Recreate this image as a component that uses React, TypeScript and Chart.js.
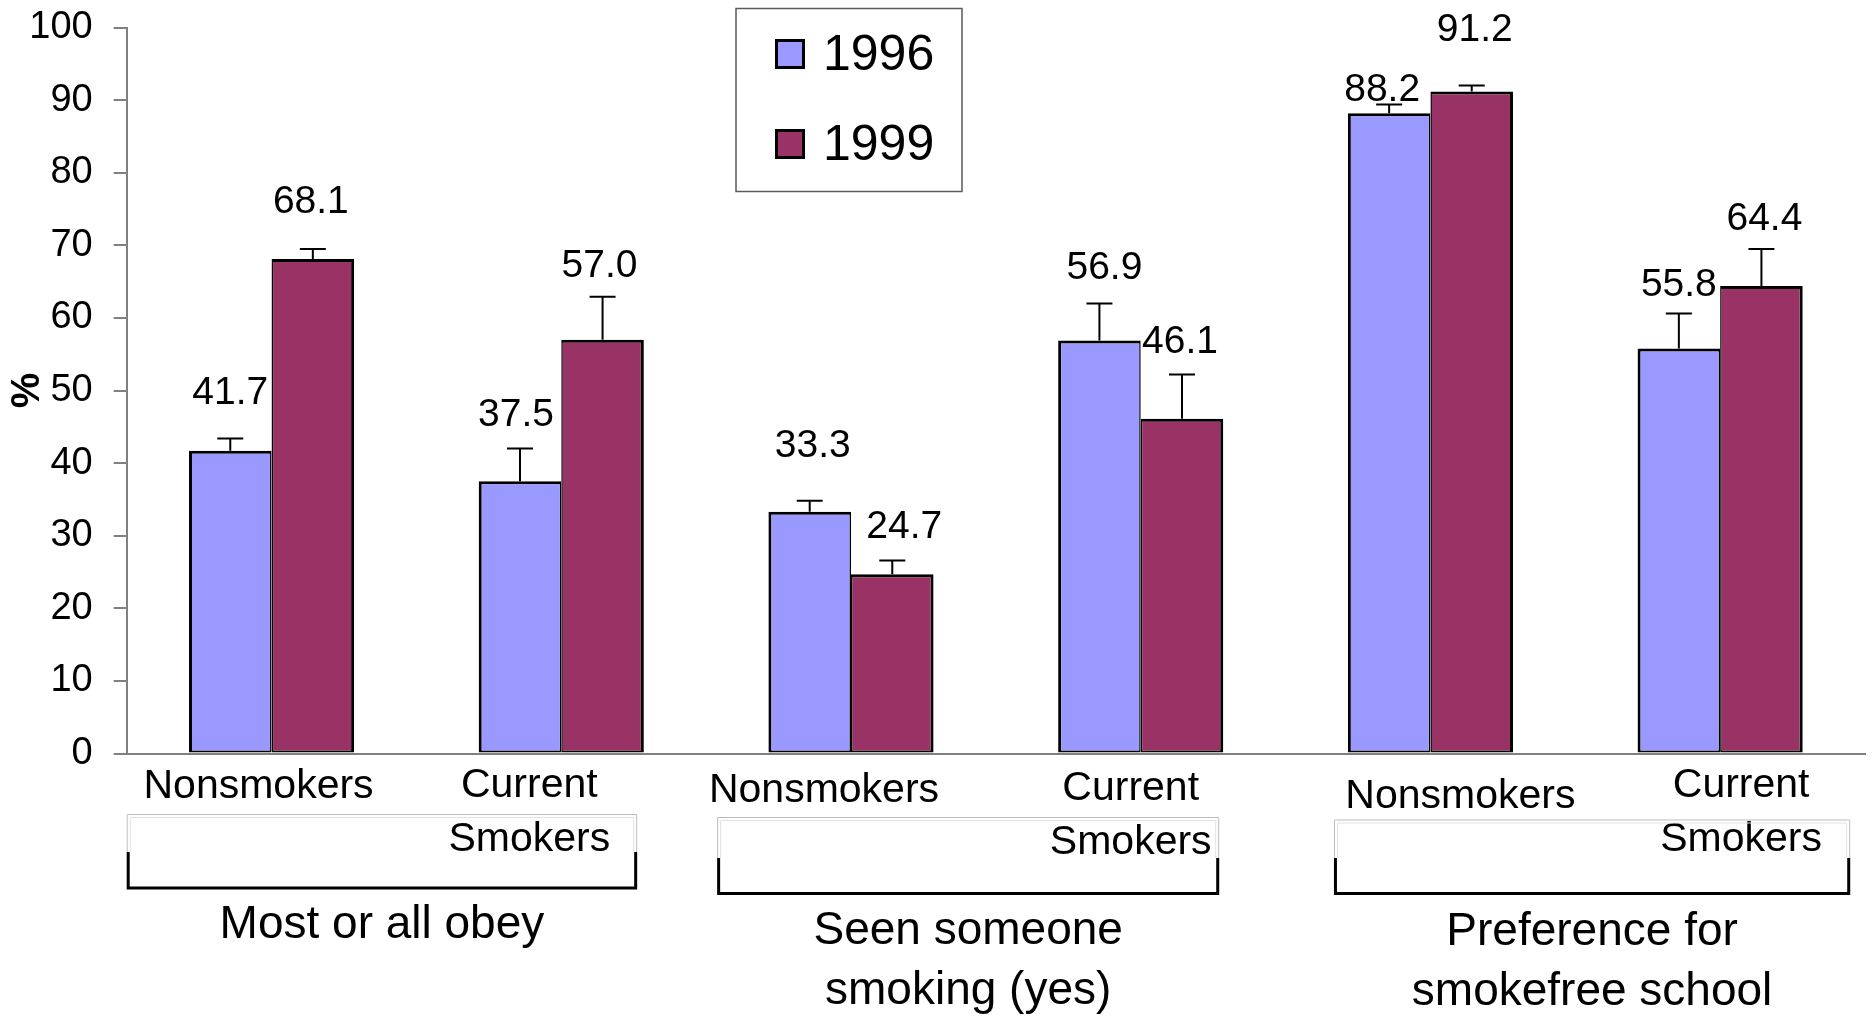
import React, { useEffect, useRef } from 'react';
import { Chart, registerables } from 'chart.js';

Chart.register(...registerables);

const FONT = "'Liberation Sans', Arial, Helvetica, sans-serif";

// ---------- data ----------
const categories = ['Nonsmokers', 'Current Smokers', 'Nonsmokers', 'Current Smokers', 'Nonsmokers', 'Current Smokers'];
const groupLabels = [['Most or all obey'], ['Seen someone', 'smoking (yes)'], ['Preference for', 'smokefree school']];
const seriesNames = ['1996', '1999'];
const values1996 = [41.7, 37.5, 33.3, 56.9, 88.2, 55.8];
const values1999 = [68.1, 57.0, 24.7, 46.1, 91.2, 64.4];
const errors1996 = [1.7, 4.5, 1.5, 5.1, 1.2, 4.8];
const errors1999 = [1.4, 5.9, 1.9, 6.1, 0.8, 5.1];
const yMin = 0;
const yMax = 100;
const yStep = 10;
const yTitle = '%';

// ---------- styling / layout ----------
const COLORS = ['#9999FF', '#993366'];
const LABEL_DX = [[0, -4, 3, 5, -7, 0], [-2, -3, 12, -2, 3, 3]];
const LABEL_DY = [[-58, -66, -65, -72, -23, -63], [-57, -73, -47, -77, -61, -67]];
const CAT_DX = [-13, -32, -27, -10, 30, 21];
const CAT_DY = [33.5, 32, 37.5, 35, 43.5, 32];
const CAT_DY2 = [0, 86, 0, 89.5, 0, 86];
const BRACKETS = [
  { start: 0, end: 1.762, top: 60.5, black: 98.5, bottom: 134.5, text: 172 },
  { start: 0.038, end: 1.771, top: 63.5, black: 104.5, bottom: 140, text: 178 },
  { start: 0.167, end: 1.949, top: 66, black: 104.5, bottom: 140, text: 179 },
];
const GROUP_LINE_GAP = 59.5;
const LEGEND = { x: 736, y: 8.5, w: 226, h: 183, sw: 30, swX: 775, rows: [54, 144], textX: 823, textDy: 2, font: 50 };

const overlayPlugin = {
  id: 'overlay',
  afterDatasetsDraw(chart: any) {
    const ctx = chart.ctx;
    const xs = chart.scales.x;
    const ys = chart.scales.y;
    const area = chart.chartArea;
    const vals = [values1996, values1999];
    const errs = [errors1996, errors1999];
    ctx.save();

    // error bars (upper)
    ctx.strokeStyle = '#000';
    ctx.lineWidth = 2;
    for (let d = 0; d < 2; d++) {
      const meta = chart.getDatasetMeta(d);
      meta.data.forEach((bar: any, i: number) => {
        const top = ys.getPixelForValue(vals[d][i]);
        const cap = ys.getPixelForValue(vals[d][i] + errs[d][i]);
        ctx.beginPath();
        ctx.moveTo(bar.x, top);
        ctx.lineTo(bar.x, cap);
        ctx.moveTo(bar.x - 13, cap);
        ctx.lineTo(bar.x + 13, cap);
        ctx.stroke();
      });
    }

    // value labels
    ctx.fillStyle = '#000';
    ctx.textAlign = 'center';
    ctx.textBaseline = 'middle';
    ctx.font = `39px ${FONT}`;
    for (let d = 0; d < 2; d++) {
      const meta = chart.getDatasetMeta(d);
      meta.data.forEach((bar: any, i: number) => {
        const top = ys.getPixelForValue(vals[d][i]);
        ctx.fillText(vals[d][i].toFixed(1), bar.x + LABEL_DX[d][i], top + LABEL_DY[d][i]);
      });
    }

    // category labels
    const axisY = area.bottom;
    ctx.font = `41px ${FONT}`;
    categories.forEach((c, i) => {
      const cx = xs.getPixelForValue(i) + CAT_DX[i];
      const lines = c.split(' ');
      lines.forEach((ln, k) => {
        ctx.fillText(ln, cx, axisY + (k === 0 ? CAT_DY[i] : CAT_DY2[i]));
      });
    });

    // group brackets
    const catW = xs.getPixelForValue(1) - xs.getPixelForValue(0);
    BRACKETS.forEach((b, g) => {
      const base = xs.getPixelForValue(g * 2) - catW / 2;
      const left = base + b.start * catW;
      const right = base + b.end * catW;
      // light grey text-box outline
      ctx.lineWidth = 1;
      ctx.strokeStyle = '#bdbdbd';
      ctx.beginPath();
      ctx.moveTo(left + 0.5, axisY + b.black);
      ctx.lineTo(left + 0.5, axisY + b.top + 0.5);
      ctx.lineTo(right - 0.5, axisY + b.top + 0.5);
      ctx.lineTo(right - 0.5, axisY + b.black);
      ctx.stroke();
      ctx.strokeStyle = '#e2e2e2';
      ctx.beginPath();
      ctx.moveTo(left + 3.5, axisY + b.black);
      ctx.lineTo(left + 3.5, axisY + b.top + 3.5);
      ctx.lineTo(right - 3.5, axisY + b.top + 3.5);
      ctx.lineTo(right - 3.5, axisY + b.black);
      ctx.stroke();
      // black bracket
      ctx.lineWidth = 3;
      ctx.strokeStyle = '#000';
      ctx.beginPath();
      ctx.moveTo(left + 1.5, axisY + b.black);
      ctx.lineTo(left + 1.5, axisY + b.bottom);
      ctx.lineTo(right - 1.5, axisY + b.bottom);
      ctx.lineTo(right - 1.5, axisY + b.black);
      ctx.stroke();
      // group label
      ctx.fillStyle = '#000';
      ctx.font = `46px ${FONT}`;
      const gx = (left + right) / 2;
      groupLabels[g].forEach((ln, k) => {
        ctx.fillText(ln, gx, axisY + b.text + k * GROUP_LINE_GAP);
      });
    });

    // legend
    ctx.lineWidth = 1.5;
    ctx.strokeStyle = '#5a5a5a';
    ctx.fillStyle = '#fff';
    ctx.fillRect(LEGEND.x, LEGEND.y, LEGEND.w, LEGEND.h);
    ctx.strokeRect(LEGEND.x, LEGEND.y, LEGEND.w, LEGEND.h);
    chart.data.datasets.forEach((ds: any, d: number) => {
      const cy = LEGEND.rows[d];
      ctx.fillStyle = ds.backgroundColor;
      ctx.fillRect(LEGEND.swX, cy - LEGEND.sw / 2, LEGEND.sw, LEGEND.sw);
      ctx.lineWidth = 3;
      ctx.strokeStyle = '#000';
      ctx.strokeRect(LEGEND.swX + 1.5, cy - LEGEND.sw / 2 + 1.5, LEGEND.sw - 3, LEGEND.sw - 3);
      ctx.fillStyle = '#000';
      ctx.textAlign = 'left';
      ctx.font = `${LEGEND.font}px ${FONT}`;
      ctx.fillText(ds.label, LEGEND.textX, cy + LEGEND.textDy);
    });

    ctx.restore();
  },
};

export default function App() {
  const canvasRef = useRef<HTMLCanvasElement | null>(null);

  useEffect(() => {
    if (!canvasRef.current) return;
    const chart = new Chart(canvasRef.current, {
      type: 'bar',
      data: {
        labels: categories,
        datasets: [
          {
            label: seriesNames[0],
            data: values1996,
            backgroundColor: COLORS[0],
            borderColor: '#000',
            borderWidth: { left: 3, top: 3, right: 1.5, bottom: 2 },
            borderSkipped: false,
          },
          {
            label: seriesNames[1],
            data: values1999,
            backgroundColor: COLORS[1],
            borderColor: '#000',
            borderWidth: { left: 1.5, top: 3, right: 3, bottom: 2 },
            borderSkipped: false,
          },
        ],
      },
      options: {
        animation: false,
        responsive: true,
        maintainAspectRatio: false,
        layout: { padding: { top: 27.5, right: 8, bottom: 0, left: 0 } },
        datasets: { bar: { categoryPercentage: 0.57, barPercentage: 1.0 } },
        plugins: {
          legend: { display: false },
          tooltip: { enabled: false },
          title: { display: false },
        },
        scales: {
          x: {
            type: 'category',
            offset: true,
            grid: { display: false, drawTicks: false },
            border: { display: true, color: '#808080', width: 2 },
            ticks: { display: false },
            afterFit: (scale: any) => {
              scale.height = 262.5;
              scale.paddingLeft = 0;
              scale.paddingRight = 0;
            },
          },
          y: {
            min: yMin,
            max: yMax,
            ticks: {
              stepSize: yStep,
              color: '#000',
              padding: 21,
              font: { family: FONT, size: 38 },
            },
            grid: {
              drawOnChartArea: false,
              drawTicks: true,
              tickLength: 13,
              color: '#808080',
              lineWidth: 2,
            },
            border: { display: true, color: '#808080', width: 2 },
            title: {
              display: true,
              text: yTitle,
              color: '#000',
              font: { family: FONT, size: 40, weight: 'bold' },
              padding: { top: 4, bottom: 0 },
            },
            afterFit: (scale: any) => {
              scale.width = 126.7;
              scale.paddingTop = 0;
              scale.paddingBottom = 0;
            },
          },
        },
      },
      plugins: [overlayPlugin],
    });
    return () => chart.destroy();
  }, []);

  return (
    <div style={{ position: 'absolute', left: 0, top: 0, width: 1873, height: 1016, background: '#fff' }}>
      <canvas ref={canvasRef} />
    </div>
  );
}
